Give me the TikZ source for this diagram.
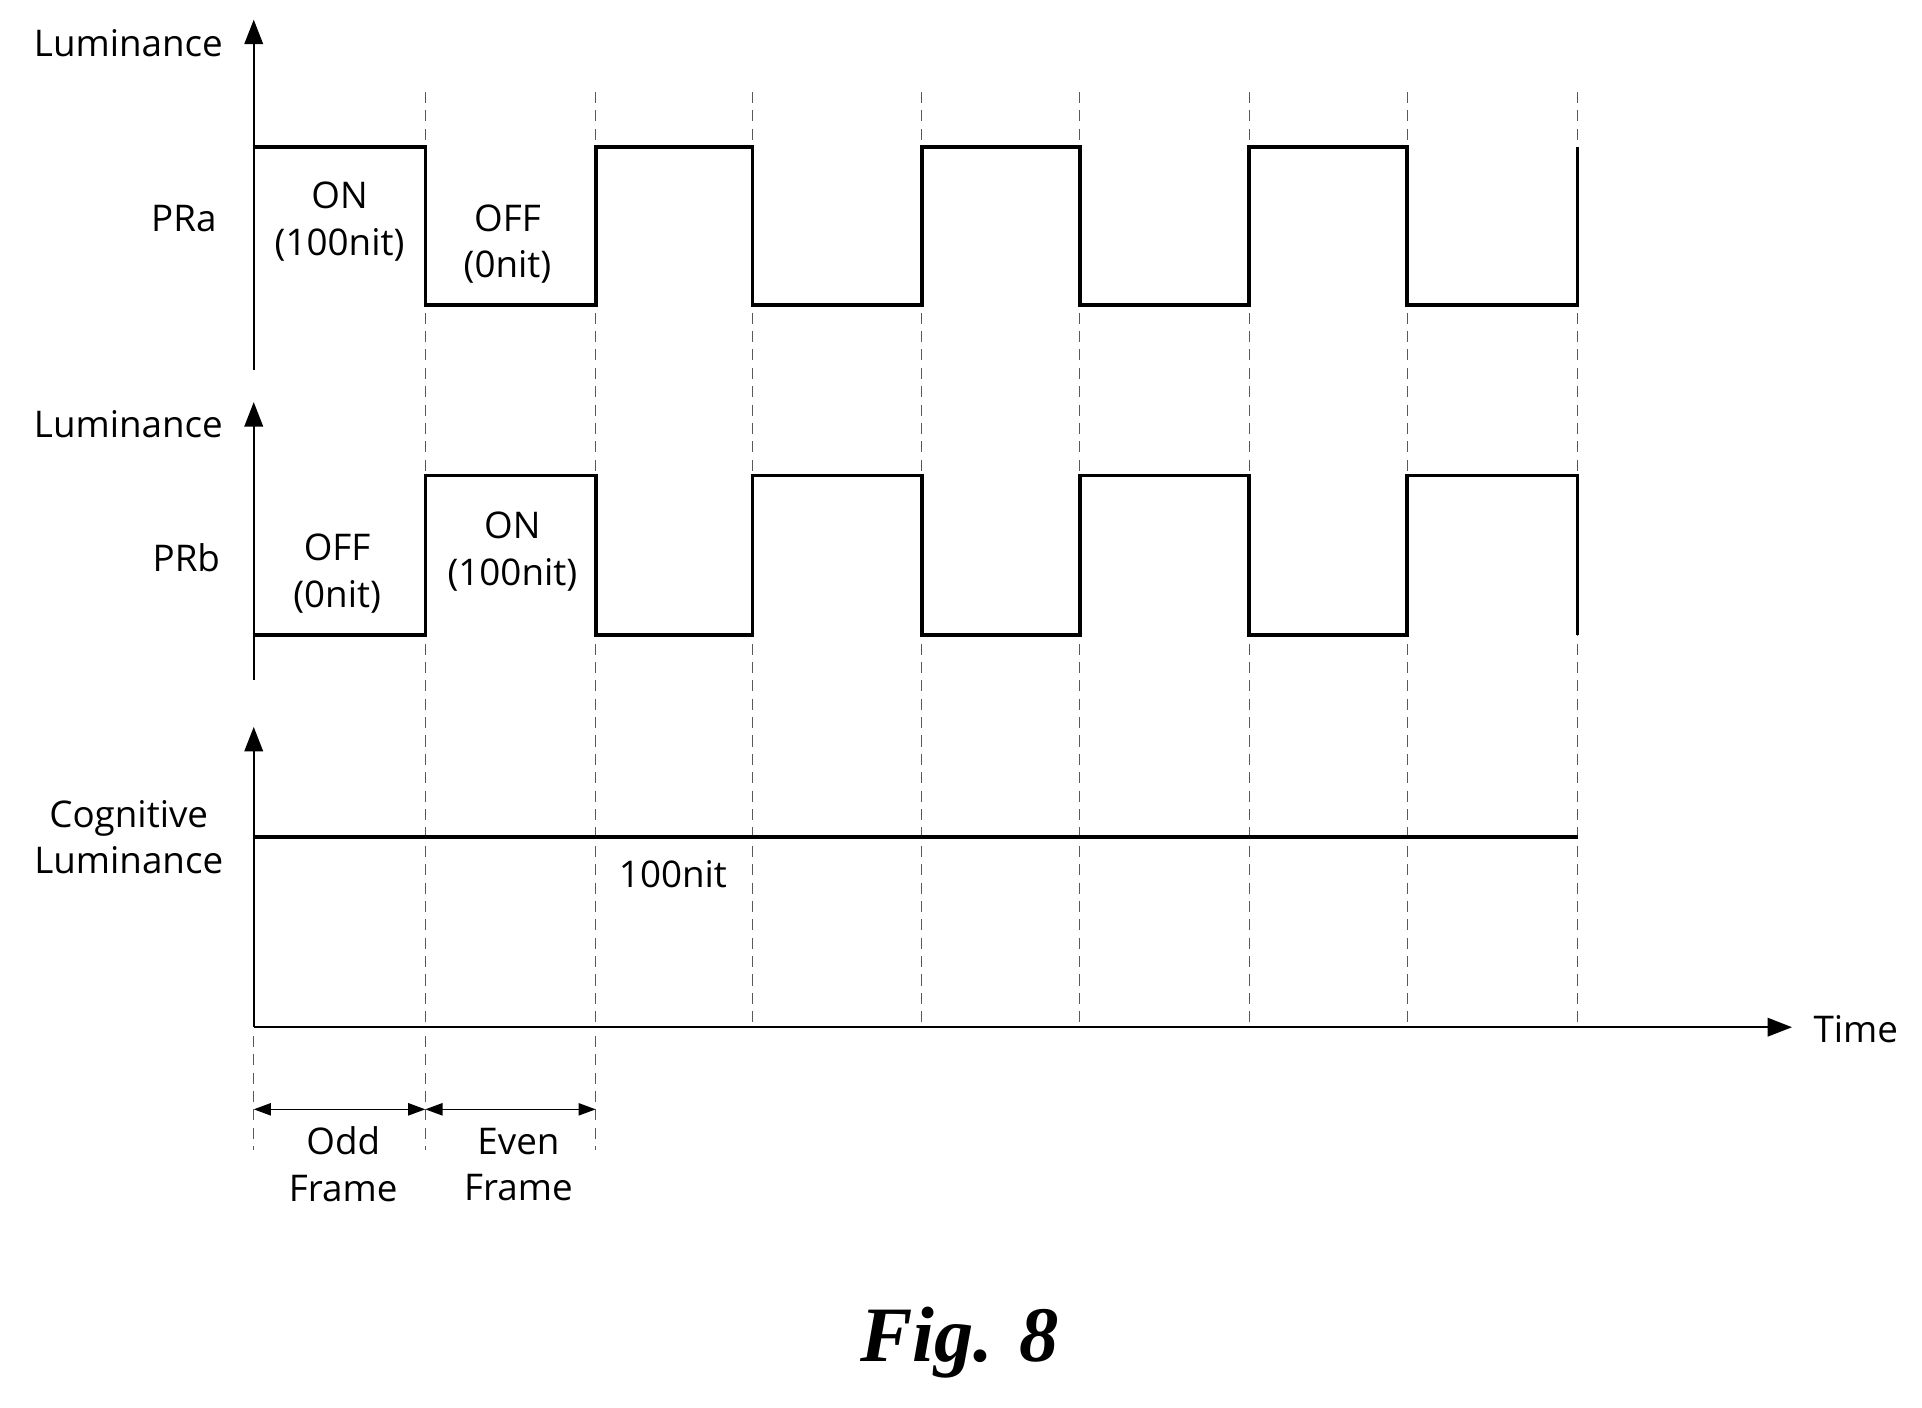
\documentclass[tikz,border=0pt]{standalone}
\usepackage{fontspec}
\setmainfont{Open Sans}
\newfontfamily\figfont{Liberation Serif}
\usetikzlibrary{arrows.meta}
\begin{document}
\begin{tikzpicture}[x=1pt,y=-1pt,
  ax/.style={line width=2pt,-{Triangle[length=20pt,width=15pt]}},
  wave/.style={line width=3pt,line join=miter},
  dsh/.style={line width=0.8pt,dash pattern=on 9pt off 6pt,gray!70!black},
  lbl/.style={font=\fontsize{30}{38}\selectfont,align=center,inner sep=0pt},
  dim/.style={line width=1.2pt,{Triangle[length=14pt,width=10pt]}-{Triangle[length=14pt,width=10pt]}}]
\useasboundingbox (0,0) rectangle (1568,1148);
% dashed verticals
\foreach \x in {347,486,614,752,881,1019,1148,1287} \draw[dsh] (\x,75) -- (\x,838);
\foreach \x in {207,347,486} \draw[dsh] (\x,845) -- (\x,938);
% axes
\coordinate (a1b) at (207,302); \coordinate (a1t) at (207,16);
\draw[ax] (a1b) -- (a1t);
\coordinate (a2b) at (207,555); \coordinate (a2t) at (207,328);
\draw[ax] (a2b) -- (a2t);
\coordinate (o) at (207,838); \coordinate (a3t) at (207,593); \coordinate (te) at (1462,838);
\draw[ax] (o) -- (a3t);
\draw[ax] (o) -- (te);
% waves
\draw[wave] (207,120) -- (347,120) -- (347,249) -- (486,249) -- (486,120) -- (614,120) -- (614,249) -- (752,249) -- (752,120) -- (881,120) -- (881,249) -- (1019,249) -- (1019,120) -- (1148,120) -- (1148,249) -- (1287,249) -- (1287,120);
\draw[wave] (207,518) -- (347,518) -- (347,388) -- (486,388) -- (486,518) -- (614,518) -- (614,388) -- (752,388) -- (752,518) -- (881,518) -- (881,388) -- (1019,388) -- (1019,518) -- (1148,518) -- (1148,388) -- (1287,388) -- (1287,518);
\draw[line width=2.8pt] (207,683) -- (1287,683);
% dims
\coordinate (d0) at (207,905); \coordinate (d1) at (347,905); \coordinate (d2) at (486,905);
\draw[dim] (d0) -- (d1);
\draw[dim] (d1) -- (d2);
% labels
\node[lbl,anchor=east] (l1) at (182,35) {Luminance};
\node[lbl,anchor=east] (l2) at (182,346) {Luminance};
\node[lbl] (pra) at (150,178) {PRa};
\node[lbl] (prb) at (152,455) {PRb};
\node[lbl] (on1) at (277,181) {ON\\(100nit)};
\node[lbl] (off1) at (414,199) {OFF\\(0nit)};
\node[lbl] (off2) at (275,468) {OFF\\(0nit)};
\node[lbl] (on2) at (418,450) {ON\\(100nit)};
\node[lbl] (cog) at (105,683) {Cognitive\\Luminance};
\node[lbl] (nit) at (549,713) {100nit};
\node[lbl] (time) at (1514,840) {Time};
\node[lbl] (odd) at (280,950) {Odd\\Frame};
\node[lbl] (even) at (423,950) {Even\\Frame};
\node[font=\figfont\bfseries\itshape\fontsize{64}{66}\selectfont] (fig) at (783,1095) {Fig. 8};
\end{tikzpicture}
\end{document}
